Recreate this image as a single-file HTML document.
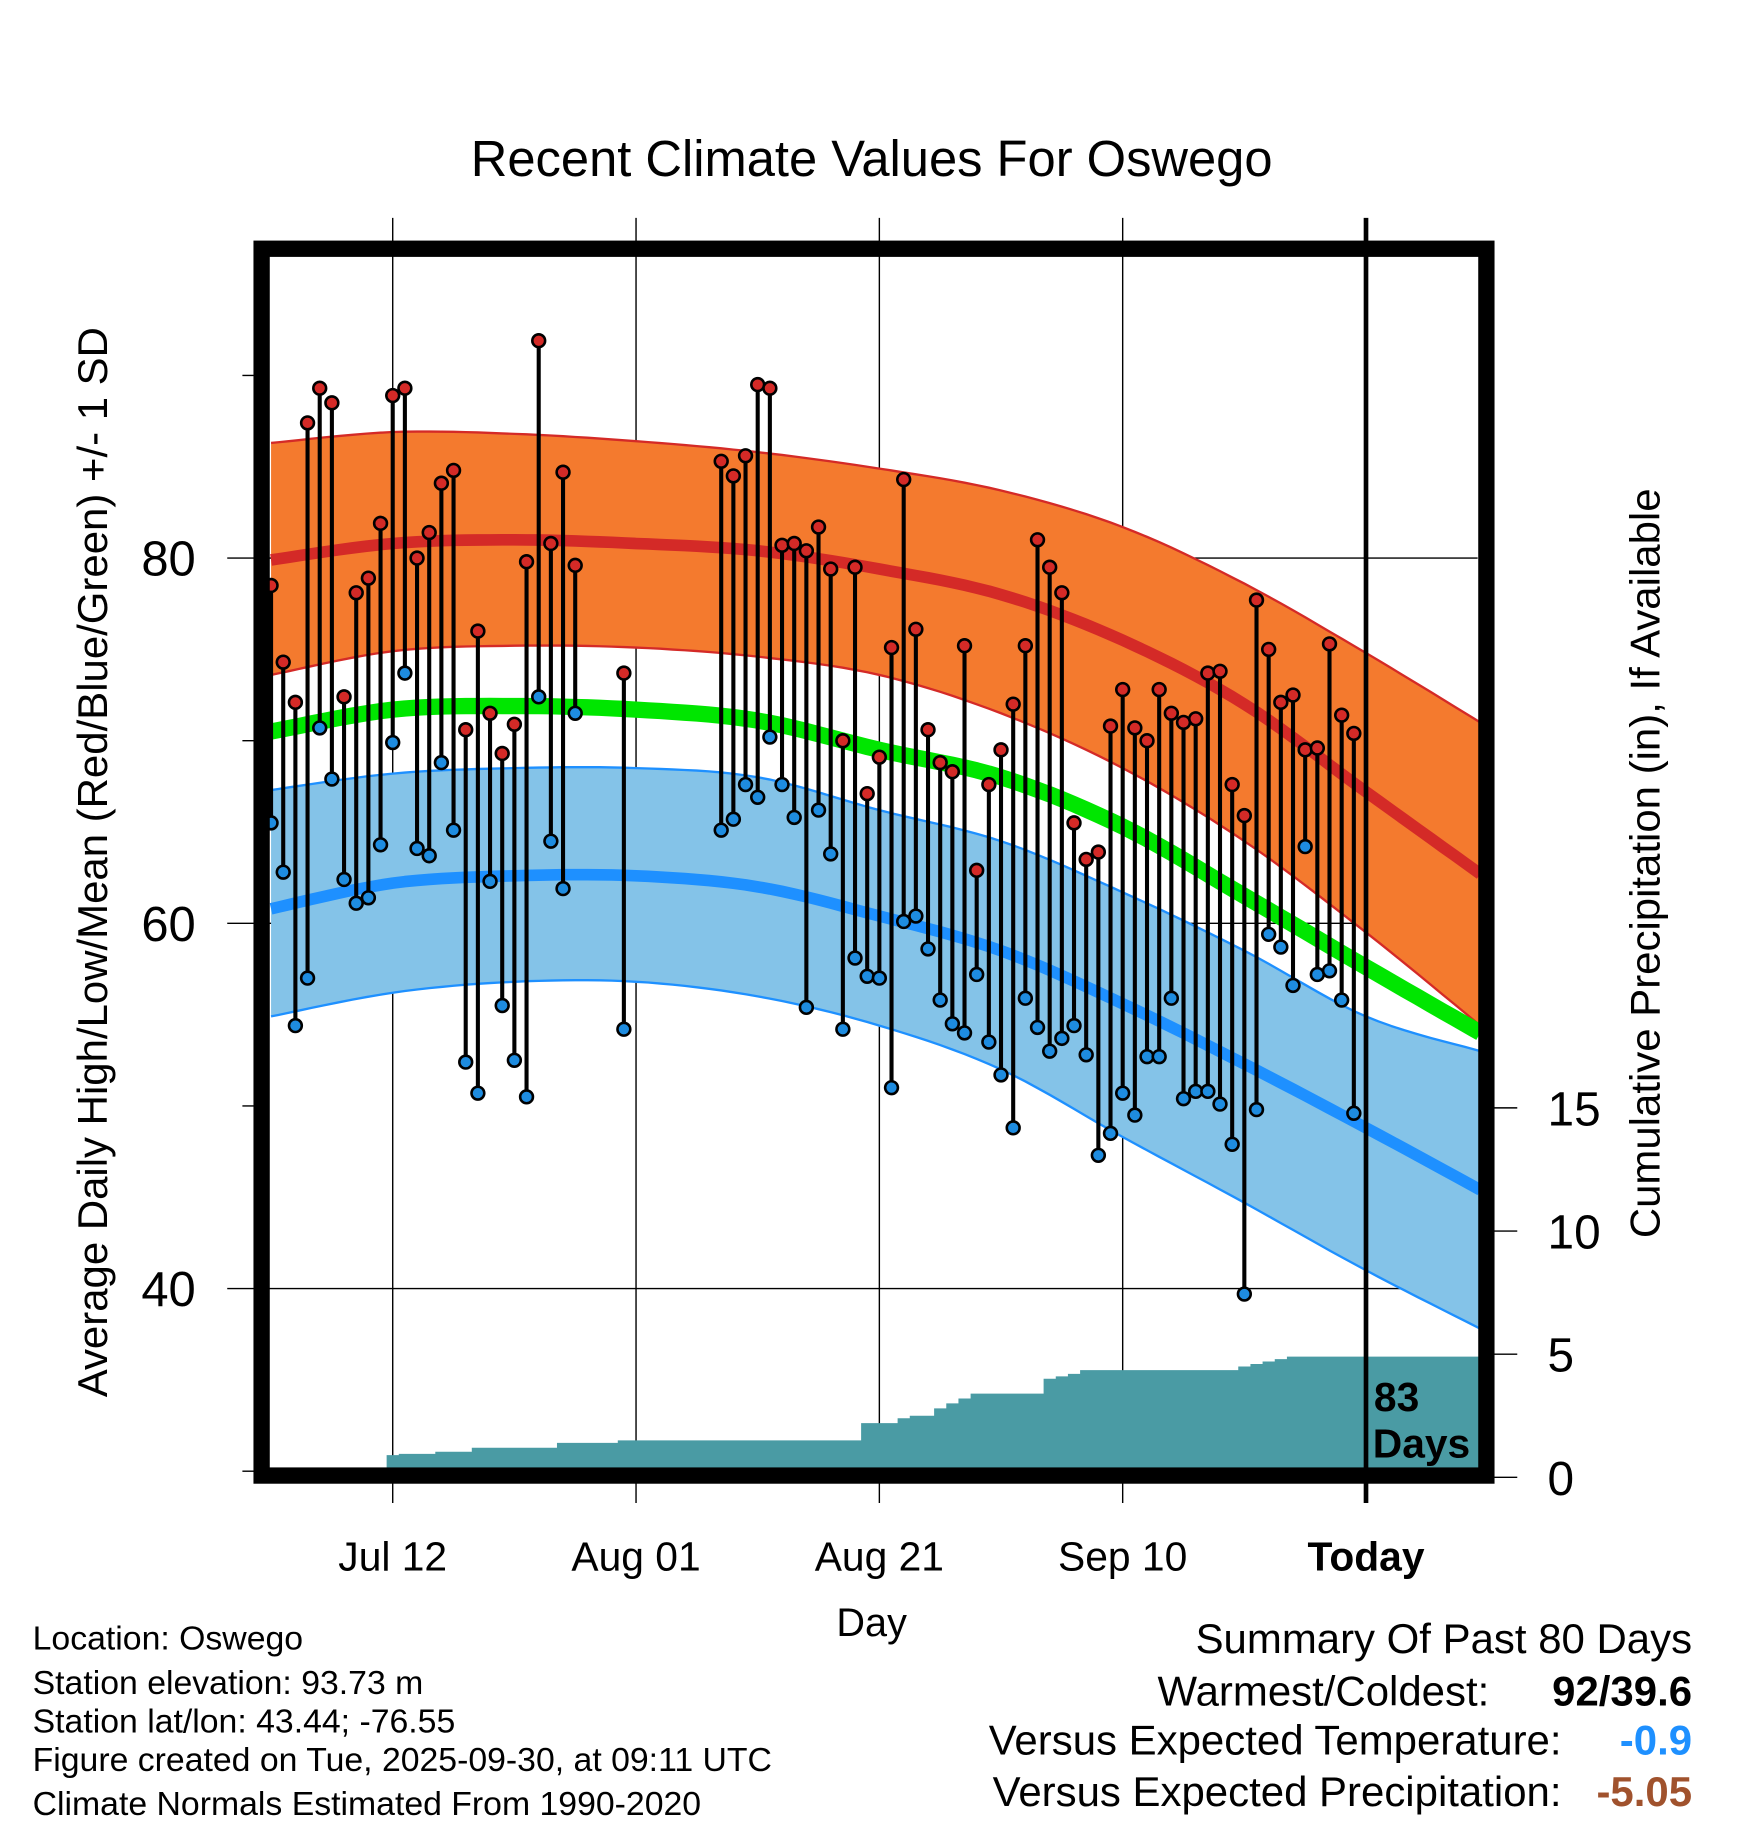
<!DOCTYPE html>
<html><head><meta charset="utf-8"><style>
html,body{margin:0;padding:0;background:#fff;}
svg{display:block;font-family:"Liberation Sans",sans-serif;}
</style></head><body>
<svg id="chart" width="1748" height="1828" viewBox="0 0 1500 1569" preserveAspectRatio="none" xmlns="http://www.w3.org/2000/svg">
<text x="748" y="151" font-size="43.5" text-anchor="middle">Recent Climate Values For Oswego</text>
<g id="grid"></g>
<g id="bands"></g>
<g id="precip"></g>
<g id="marks"></g>
<g id="frame"></g>
<text transform="translate(92,740) rotate(-90)" font-size="36" text-anchor="middle">Average Daily High/Low/Mean (Red/Blue/Green) +/- 1 SD</text>
<text transform="translate(1424,741) rotate(-90)" font-size="36" text-anchor="middle">Cumulative Precipitation (in), If Available</text>
<text x="748" y="1404" font-size="34" text-anchor="middle">Day</text>
<text x="1179" y="1211" font-size="35" font-weight="bold">83</text>
<text x="1178" y="1251" font-size="35" font-weight="bold">Days</text>
<g font-size="29">
<text x="28" y="1416">Location: Oswego</text>
<text x="28" y="1454">Station elevation: 93.73 m</text>
<text x="28" y="1487">Station lat/lon: 43.44; -76.55</text>
<text x="28" y="1520">Figure created on Tue, 2025-09-30, at 09:11 UTC</text>
<text x="28" y="1558">Climate Normals Estimated From 1990-2020</text>
</g>
<g font-size="36">
<text x="1452" y="1419" text-anchor="end">Summary Of Past 80 Days</text>
<text x="1278" y="1464" text-anchor="end">Warmest/Coldest:</text>
<text x="1452" y="1464" text-anchor="end" font-weight="bold">92/39.6</text>
<text x="1340" y="1506" text-anchor="end">Versus Expected Temperature:</text>
<text x="1452" y="1506" text-anchor="end" font-weight="bold" fill="#1e90ff">-0.9</text>
<text x="1340" y="1550" text-anchor="end">Versus Expected Precipitation:</text>
<text x="1452" y="1550" text-anchor="end" font-weight="bold" fill="#a0522d">-5.05</text>
</g>
</svg>
<script>
const highDays=[0,1,2,3,4,5,6,7,8,9,10,11,12,13,14,15,16,17,18,19,20,21,22,23,24,25,29,37,38,39,40,41,42,43,44,45,46,47,48,49,50,51,52,53,54,55,56,57,58,59,60,61,62,63,64,65,66,67,68,69,70,71,72,73,74,75,76,77,78,79,80,81,82,83,84,85,86,87,88,89];
const highs=[78.5,74.3,72.1,87.4,89.3,88.5,72.4,78.1,78.9,81.9,88.9,89.3,80.0,81.4,84.1,84.8,70.6,76.0,71.5,69.3,70.9,79.8,91.9,80.8,84.7,79.6,73.7,85.3,84.5,85.6,89.5,89.3,80.7,80.8,80.4,81.7,79.4,70.0,79.5,67.1,69.1,75.1,84.3,76.1,70.6,68.8,68.3,75.2,62.9,67.6,69.5,72.0,75.2,81.0,79.5,78.1,65.5,63.5,63.9,70.8,72.8,70.7,70.0,72.8,71.5,71.0,71.2,73.7,73.8,67.6,65.9,77.7,75.0,72.1,72.5,69.5,69.6,75.3,71.4,70.4];
const lows=[65.5,62.8,54.4,57.0,70.7,67.9,62.4,61.1,61.4,64.3,69.9,73.7,64.1,63.7,68.8,65.1,52.4,50.7,62.3,55.5,52.5,50.5,72.4,64.5,61.9,71.5,54.2,65.1,65.7,67.6,66.9,70.2,67.6,65.8,55.4,66.2,63.8,54.2,58.1,57.1,57.0,51.0,60.1,60.4,58.6,55.8,54.5,54.0,57.2,53.5,51.7,48.8,55.9,54.3,53.0,53.7,54.4,52.8,47.3,48.5,50.7,49.5,52.7,52.7,55.9,50.4,50.8,50.8,50.1,47.9,39.7,49.8,59.4,58.7,56.6,64.2,57.2,57.4,55.8,49.6];
const normDays=[0,10,20,30,40,50,60,70,80,90,99.4];
const normHighPlus=[86.3,86.9,86.8,86.4,85.8,84.9,83.7,81.7,78.6,74.8,71.0];
const normHigh=[79.9,80.8,81.0,80.8,80.4,79.4,78.0,75.5,72.0,67.2,62.7];
const normHighMinus=[73.6,74.9,75.2,75.1,74.6,73.6,71.5,68.5,64.5,59.5,54.4];
const normMean=[70.5,71.7,71.9,71.7,71.1,69.5,68.0,65.3,61.5,57.6,54.0];
const normLowPlus=[67.3,68.2,68.5,68.5,68.0,66.2,64.5,61.7,58.5,54.9,53.0];
const normLow=[60.8,62.2,62.6,62.6,62.0,60.4,58.5,55.6,52.3,48.8,45.4];
const normLowMinus=[54.9,56.2,56.8,56.8,56.0,54.4,52.0,48.3,44.7,41.0,37.8];
const precip=[0,0,0,0,0,0,0,0,0,0,0.9,0.95,0.95,0.95,1.04,1.04,1.04,1.2,1.2,1.2,1.2,1.2,1.2,1.2,1.4,1.4,1.4,1.4,1.4,1.5,1.5,1.5,1.5,1.5,1.5,1.5,1.5,1.5,1.5,1.5,1.5,1.5,1.5,1.5,1.5,1.5,1.5,1.5,1.5,2.2,2.2,2.2,2.4,2.5,2.5,2.8,3.0,3.2,3.4,3.4,3.4,3.4,3.4,3.4,4.0,4.1,4.2,4.35,4.35,4.35,4.35,4.35,4.35,4.35,4.35,4.35,4.35,4.35,4.35,4.35,4.5,4.6,4.7,4.8,4.9,4.9,4.9,4.9,4.9,4.9,4.9,4.9,4.9,4.9,4.9,4.9,4.9,4.9,4.9,4.9];
const xTickDays=[10,30,50,70,90];
const xTickLabels=["Jul 12","Aug 01","Aug 21","Sep 10","Today"];
const yTicks=[40,60,80];
const yMinor=[30,50,70,90];
const pTicks=[0,5,10,15];

const NS="http://www.w3.org/2000/svg";
const X=d=>232.6+d*10.44;
const Y=v=>479-(v-80)*15.675;
const P=p=>1268-p*21.14;
const L=231,R=1268,T=220,B=1260;
function mk(tag,attrs,parent){const e=document.createElementNS(NS,tag);for(const k in attrs)e.setAttribute(k,attrs[k]);parent.appendChild(e);return e;}
const grid=document.getElementById('grid'),bands=document.getElementById('bands'),pg=document.getElementById('precip'),marks=document.getElementById('marks'),frame=document.getElementById('frame');

// smooth (Catmull-Rom sampled) points
function smooth(arr){
  const p=normDays.map((d,i)=>[X(d),Y(arr[i])]);
  const out=[];
  for(let i=0;i<p.length-1;i++){
    const p0=p[Math.max(0,i-1)],p1=p[i],p2=p[i+1],p3=p[Math.min(p.length-1,i+2)];
    for(let s=0;s<10;s++){const t=s/10,t2=t*t,t3=t2*t;
      const f=(a,b,c,d)=>0.5*((2*b)+(-a+c)*t+(2*a-5*b+4*c-d)*t2+(-a+3*b-3*c+d)*t3);
      out.push(f(p0[0],p1[0],p2[0],p3[0]).toFixed(1)+','+f(p0[1],p1[1],p2[1],p3[1]).toFixed(1));}
  }
  const l=p[p.length-1];out.push(l[0].toFixed(1)+','+l[1].toFixed(1));
  return out;
}
function band(top,bot,fill,name){
  const pts=smooth(top).concat(smooth(bot).reverse());
  const e=mk('polygon',{points:pts.join(' '),fill:fill},bands);
  
  
}
function pl(arr,stroke,w,name){
  const e=mk('polyline',{points:smooth(arr).join(' '),fill:'none',stroke:stroke,'stroke-width':w,'stroke-linejoin':'round'},bands);
  
  
}
band(normHighPlus,normHighMinus,'#f47a2e','high-sd-band');
pl(normHighPlus,'#d42a27',2,'high-plus-sd-line');
pl(normHighMinus,'#d42a27',2,'high-minus-sd-line');
pl(normHigh,'#d42a27',10,'normal-high-line');
band(normLowPlus,normLowMinus,'#84c3e8','low-sd-band');
pl(normLowPlus,'#1e90ff',2,'low-plus-sd-line');
pl(normLowMinus,'#1e90ff',2,'low-minus-sd-line');
pl(normLow,'#1e90ff',10,'normal-low-line');
pl(normMean,'#00e600',14,'normal-mean-line');

// precip step area
let pts=[X(0)+','+B];
precip.forEach((p,i)=>{const y=Math.min(B,P(p));pts.push(X(i-0.5)+','+y);pts.push(X(i+0.5)+','+y);});
pts.push(X(precip.length)+','+B);
const pa=mk('polygon',{points:pts.join(' '),fill:'#4a9ba4'},pg);



// gridlines
xTickDays.forEach((d,i)=>{
  const g=mk('line',{x1:X(d),x2:X(d),y1:187,y2:1290,stroke:'#000','stroke-width':i==4?4:1.2},i==4?marks:grid);
  
  
  const t=mk('text',{x:X(d),y:1348,'font-size':35,'text-anchor':'middle','font-weight':i==4?'bold':'normal'},frame);
  t.textContent=xTickLabels[i];
  
  
});
yTicks.forEach(v=>{
  const g=mk('line',{x1:195,x2:R,y1:Y(v),y2:Y(v),stroke:'#000','stroke-width':1.2},grid);
  
  
  const t=mk('text',{x:168,y:Y(v)+15,'font-size':42,'text-anchor':'end'},frame);
  t.textContent=v;
  
  
});
yMinor.forEach(v=>{
  const g=mk('line',{x1:208,x2:220,y1:Y(v),y2:Y(v),stroke:'#000','stroke-width':1.2},grid);
  
  
});
pTicks.forEach(p=>{
  const g=mk('line',{x1:1282,x2:1302,y1:P(p),y2:P(p),stroke:'#000','stroke-width':1.2},grid);
  
  
  const t=mk('text',{x:1328,y:P(p)+15,'font-size':41},frame);
  t.textContent=p;
  
  
});

// daily marks
highDays.forEach((d,i)=>{
  const s=mk('line',{x1:X(d),x2:X(d),y1:Y(highs[i]),y2:Y(lows[i]),stroke:'#000','stroke-width':3.5},marks);
  
  
});
highDays.forEach((d,i)=>{
  const h=mk('circle',{cx:X(d),cy:Y(highs[i]),r:5.5,fill:'#d42a27',stroke:'#000','stroke-width':2.2},marks);
  
  
  const l=mk('circle',{cx:X(d),cy:Y(lows[i]),r:5.5,fill:'#1e8ce0',stroke:'#000','stroke-width':2.2},marks);
  
  
});

const fr=mk('rect',{x:224.5,y:213.5,width:1051,height:1053,fill:'none',stroke:'#000','stroke-width':14},frame);


</script>
</body></html>
